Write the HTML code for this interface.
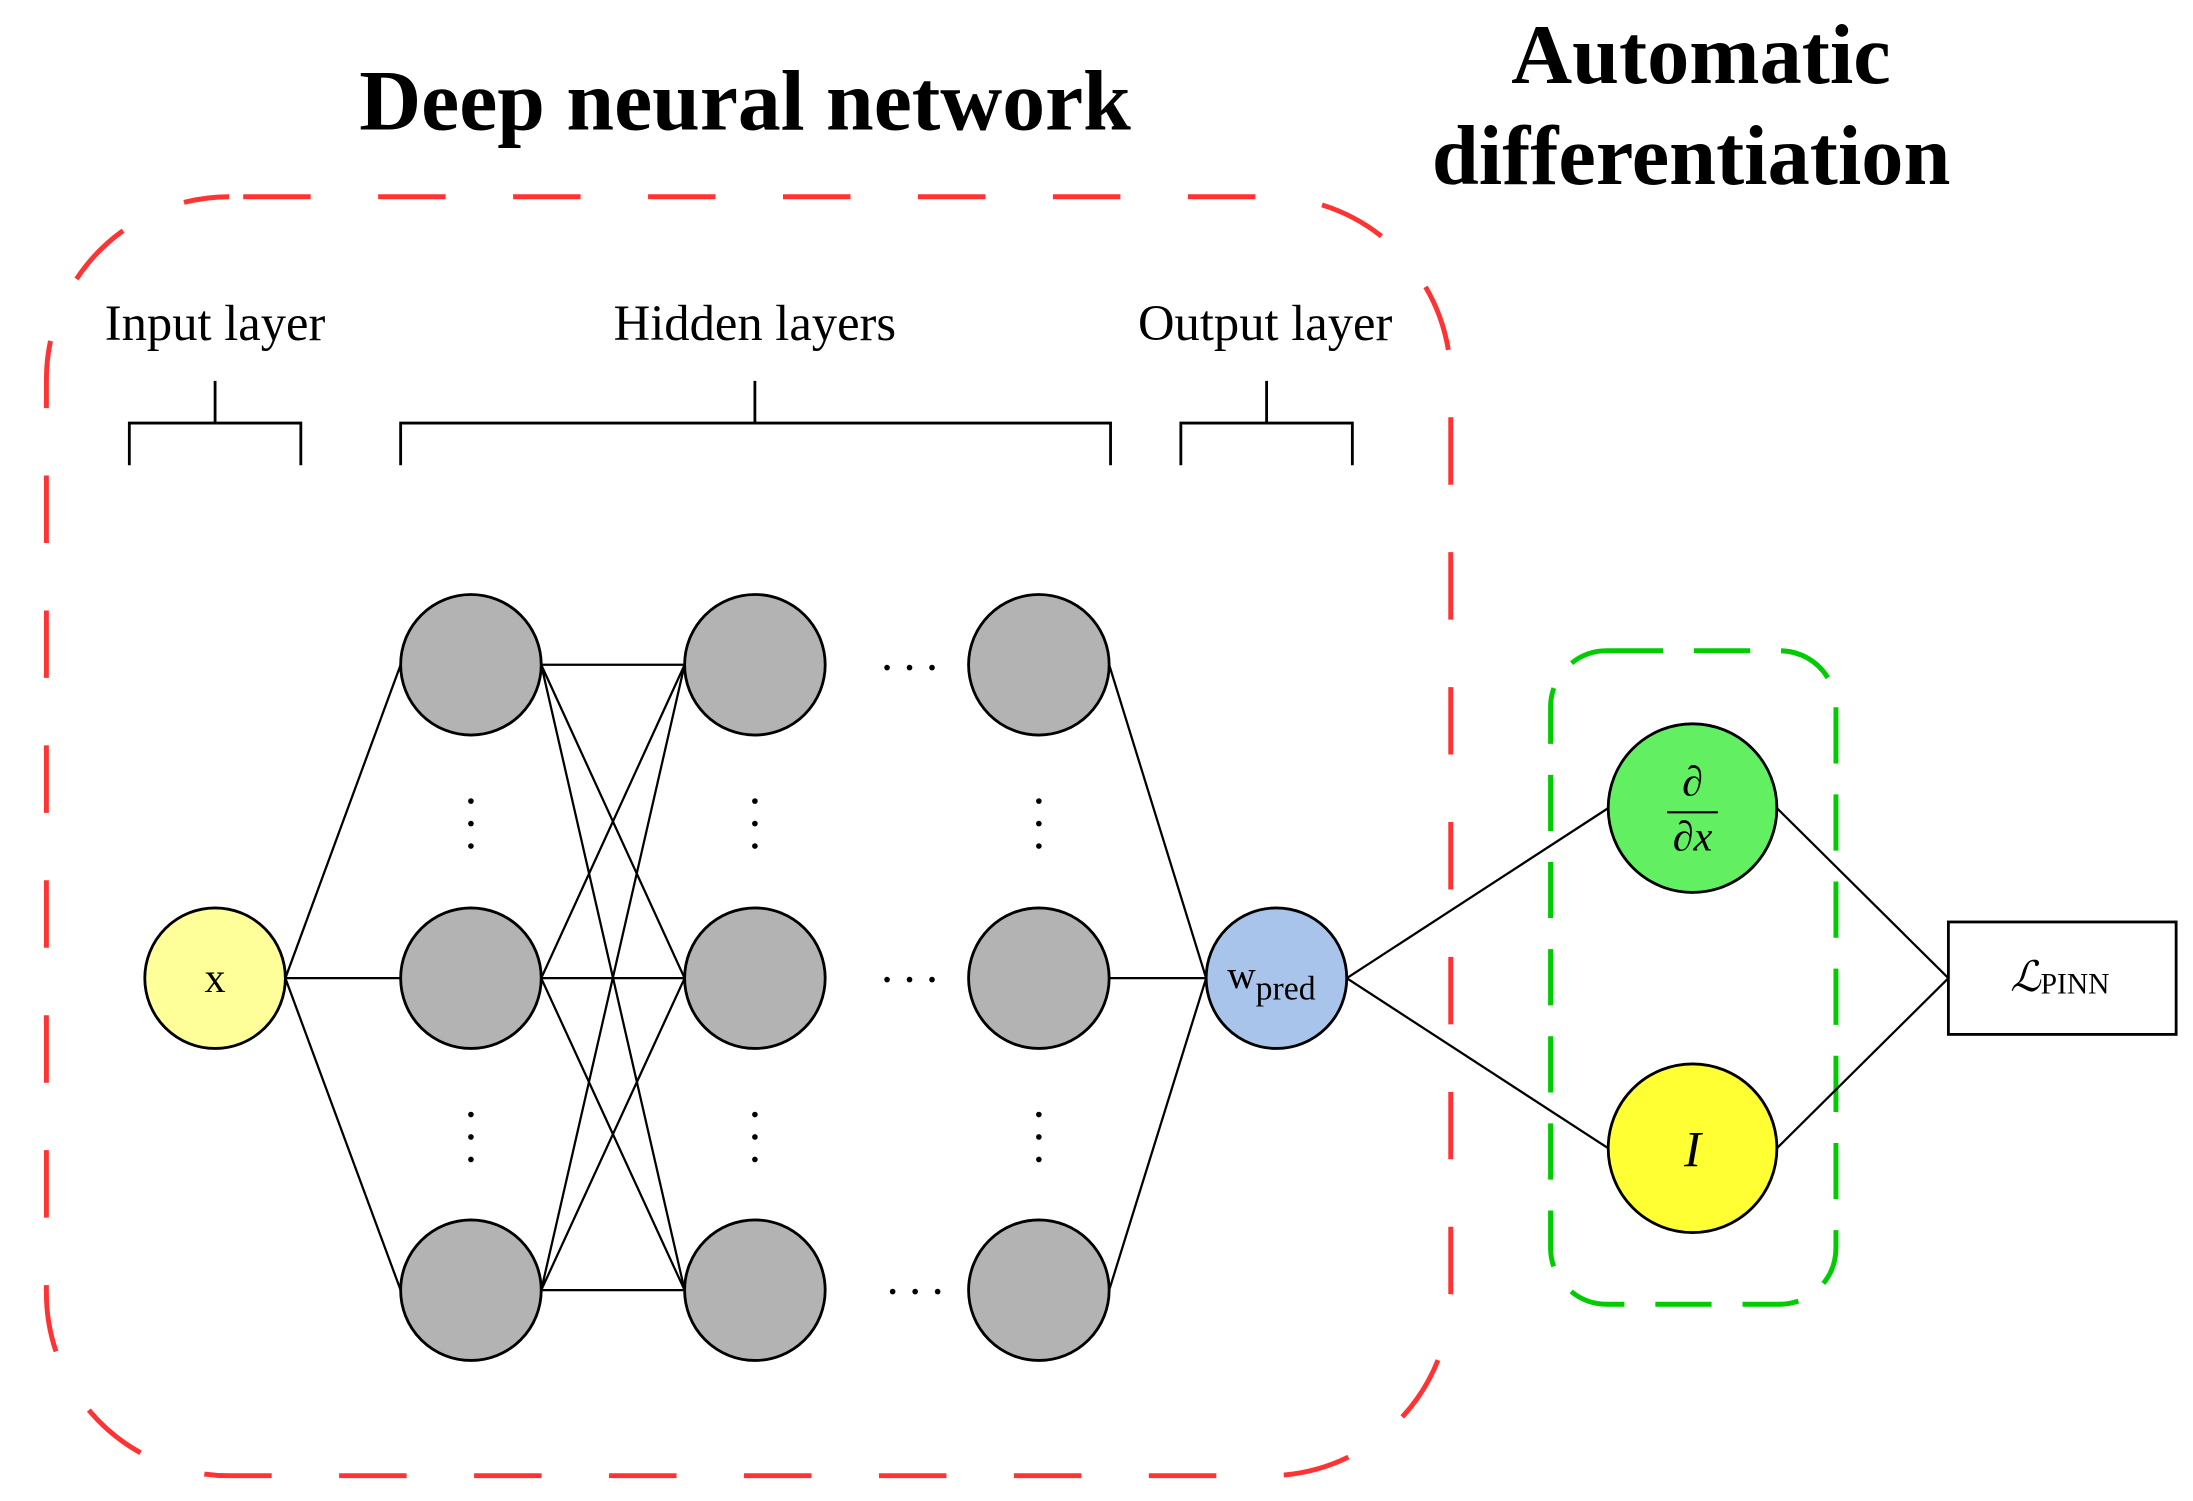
<!DOCTYPE html>
<html><head><style>html,body{margin:0;padding:0;background:#fff}svg{display:block}</style></head>
<body>
<svg width="2193" height="1501" viewBox="0 0 1560 1068" preserveAspectRatio="none" xmlns="http://www.w3.org/2000/svg" font-family="'Liberation Serif',serif">
<text x="530" y="92" font-size="61" font-weight="bold" text-anchor="middle">Deep neural network</text>
<text x="1210" y="59" font-size="60" font-weight="bold" text-anchor="middle">Automatic</text>
<text x="1203" y="131" font-size="60" font-weight="bold" text-anchor="middle">differentiation</text>
<rect x="33" y="140" width="999" height="910" rx="130" ry="130" fill="none" stroke="#ff3333" stroke-width="3.5" stroke-dasharray="48,48" stroke-dashoffset="-10"/>
<text x="153" y="242" font-size="36" text-anchor="middle">Input layer</text>
<text x="537" y="242" font-size="36" text-anchor="middle">Hidden layers</text>
<text x="900" y="242" font-size="36" text-anchor="middle">Output layer</text>
<g stroke="#000" stroke-width="2" fill="none">
<path d="M92 331V301H214V331M153 271V301"/>
<path d="M285 331V301H790V331M537 271V301"/>
<path d="M840 331V301H962V331M901 271V301"/>
</g>
<rect x="1103" y="463" width="203" height="465" rx="40" ry="40" fill="none" stroke="#00cc00" stroke-width="3.5" stroke-dasharray="40,22"/>
<g stroke="#000" stroke-width="2">
<circle cx="153" cy="696" r="50" fill="#ffff99"/>
<g fill="#b3b3b3">
<circle cx="335" cy="473" r="50"/><circle cx="335" cy="696" r="50"/><circle cx="335" cy="918" r="50"/>
<circle cx="537" cy="473" r="50"/><circle cx="537" cy="696" r="50"/><circle cx="537" cy="918" r="50"/>
<circle cx="739" cy="473" r="50"/><circle cx="739" cy="696" r="50"/><circle cx="739" cy="918" r="50"/>
</g>
<circle cx="908" cy="696" r="50" fill="#a9c4eb"/>
<circle cx="1204" cy="575" r="60" fill="#62f062"/>
<circle cx="1204" cy="817" r="60" fill="#ffff33"/>
<rect x="1386" y="656" width="162" height="80" fill="#fff"/>
</g>
<g stroke="#000" stroke-width="1.6" fill="none">
<path d="M203 696L285 473M203 696L285 696M203 696L285 918"/>
<path d="M385 473L487 473M385 473L487 696M385 473L487 918M385 696L487 473M385 696L487 696M385 696L487 918M385 918L487 473M385 918L487 696M385 918L487 918"/>
<path d="M789 473L858 696M789 696L858 696M789 918L858 696"/>
<path d="M958 696L1144 575M958 696L1144 817M1264 575L1386 696M1264 817L1386 696"/>
</g>
<g fill="#000">
<circle cx="335" cy="570" r="2"/><circle cx="335" cy="586" r="2"/><circle cx="335" cy="602" r="2"/>
<circle cx="537" cy="570" r="2"/><circle cx="537" cy="586" r="2"/><circle cx="537" cy="602" r="2"/>
<circle cx="739" cy="570" r="2"/><circle cx="739" cy="586" r="2"/><circle cx="739" cy="602" r="2"/>
<circle cx="335" cy="793" r="2"/><circle cx="335" cy="809" r="2"/><circle cx="335" cy="825" r="2"/>
<circle cx="537" cy="793" r="2"/><circle cx="537" cy="809" r="2"/><circle cx="537" cy="825" r="2"/>
<circle cx="739" cy="793" r="2"/><circle cx="739" cy="809" r="2"/><circle cx="739" cy="825" r="2"/>
<circle cx="631" cy="475" r="2"/><circle cx="647" cy="475" r="2"/><circle cx="663" cy="475" r="2"/>
<circle cx="631" cy="697" r="2"/><circle cx="647" cy="697" r="2"/><circle cx="663" cy="697" r="2"/>
<circle cx="635" cy="919" r="2"/><circle cx="651" cy="919" r="2"/><circle cx="667" cy="919" r="2"/>
</g>
<text x="153" y="706" font-size="30" text-anchor="middle">x</text>
<text x="873" y="703" font-size="28">w<tspan font-size="24" dy="8">pred</tspan></text>
<text x="1204" y="566" font-size="30" font-style="italic" text-anchor="middle">∂</text>
<line x1="1186" y1="578" x2="1222" y2="578" stroke="#000" stroke-width="1.5"/>
<text x="1204" y="605" font-size="30" font-style="italic" text-anchor="middle">∂x</text>
<text x="1204" y="830" font-size="36" font-style="italic" text-anchor="middle">I</text>
<text x="1430" y="705" font-size="30" font-style="italic">ℒ<tspan font-style="normal" font-size="21" dy="2">PINN</tspan></text>
</svg>
</body></html>
